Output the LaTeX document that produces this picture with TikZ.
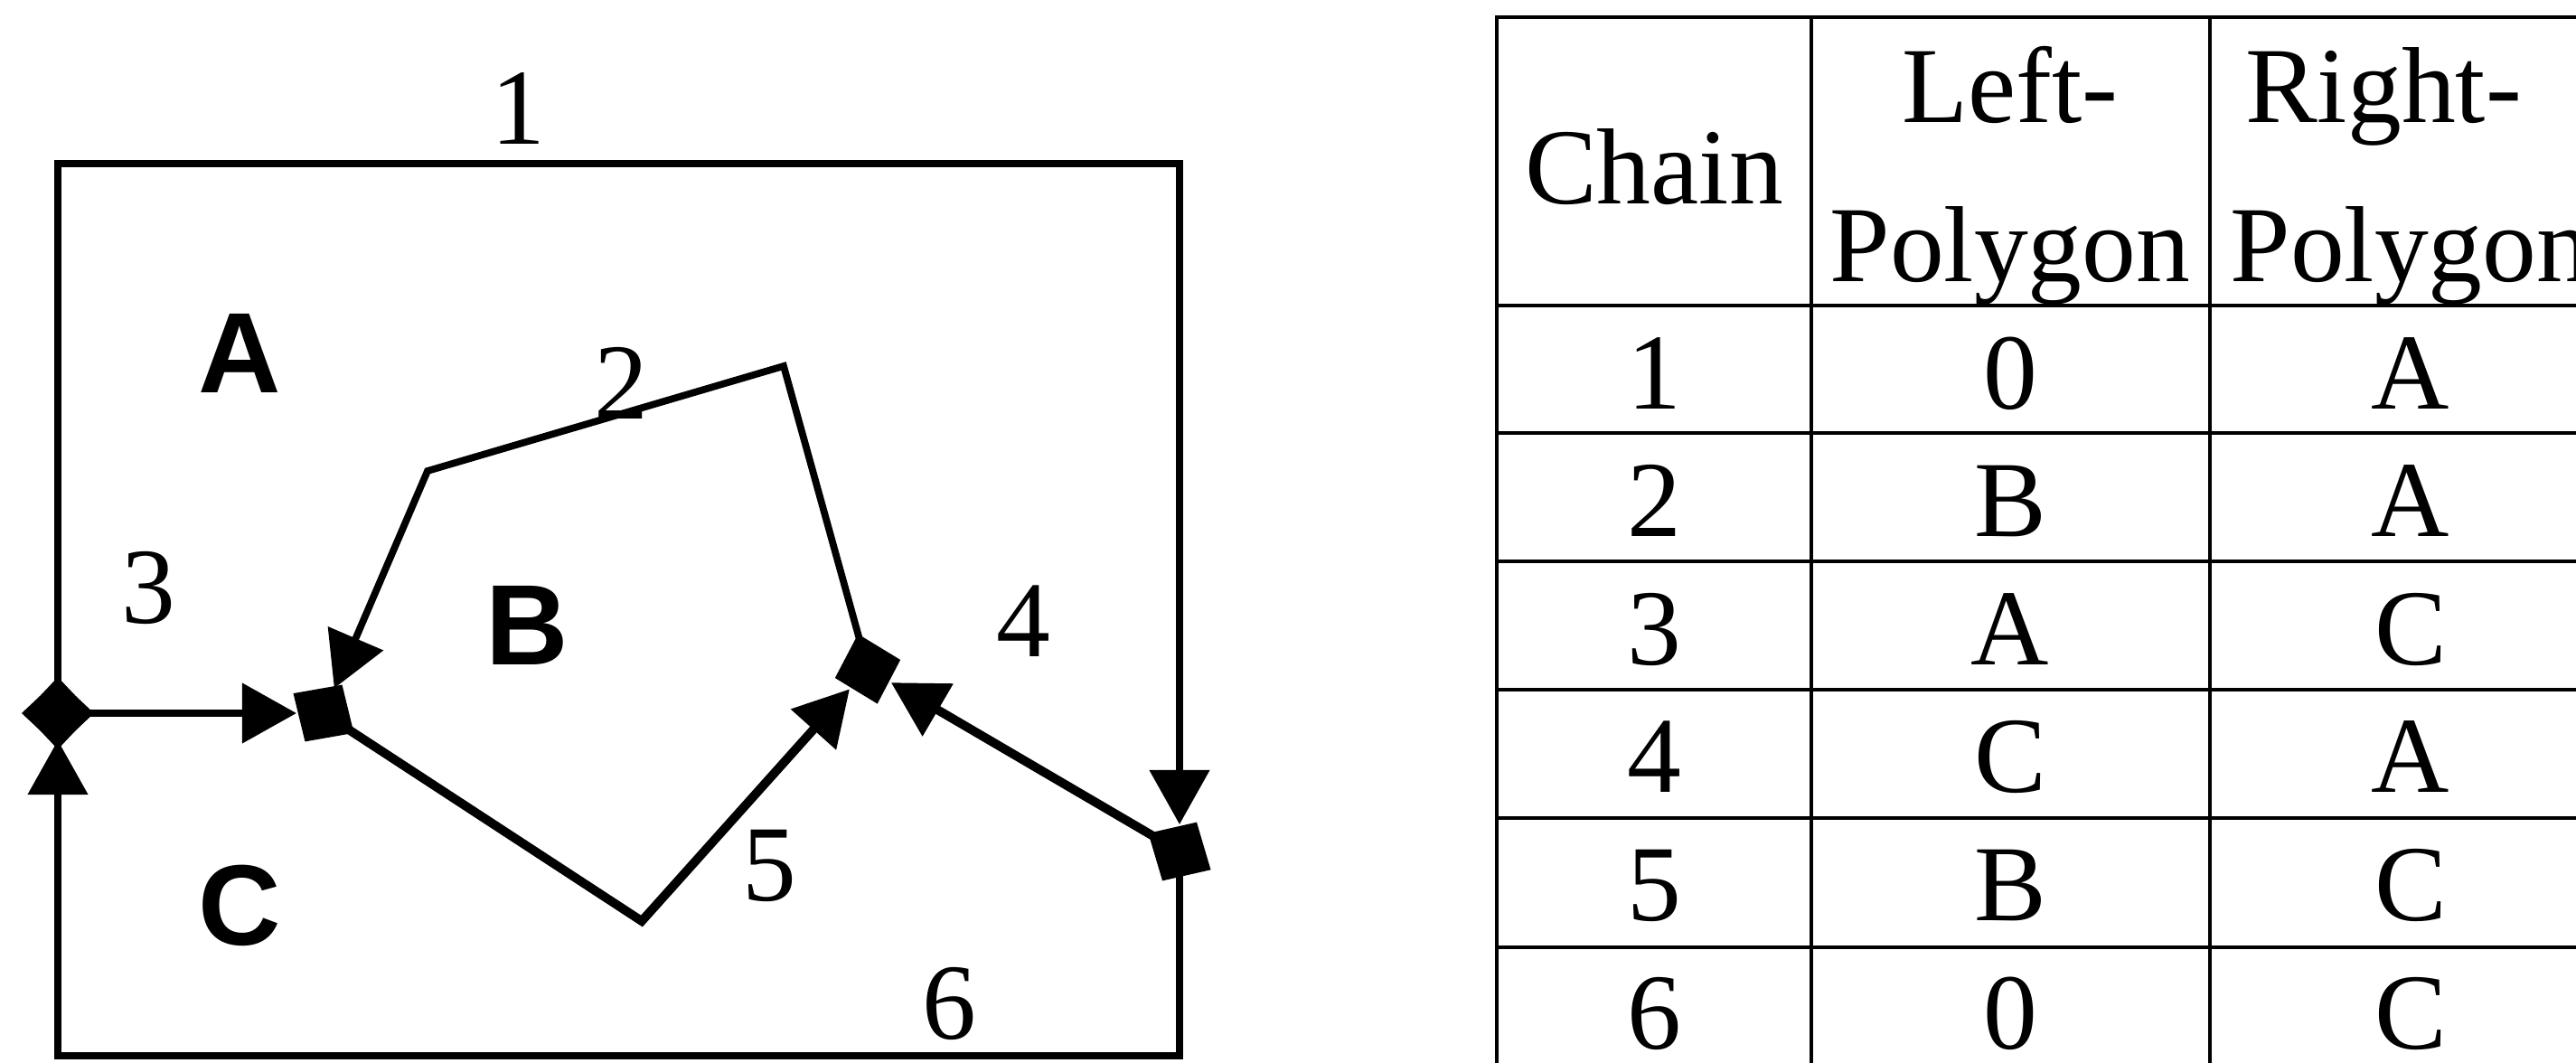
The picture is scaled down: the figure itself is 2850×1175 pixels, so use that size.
\documentclass[tikz,border=0pt]{standalone}
\usepackage{fontspec}
\setmainfont{Liberation Serif}
\setsansfont{Liberation Sans}
\usetikzlibrary{arrows.meta}
\tikzset{
  chainline/.style={line width=2.2pt,
              {Diamond[length=8mm,width=7.5mm]}-{Triangle[length=6mm,width=6.5mm]},
              shorten <=-4mm, shorten >=3mm},
  endonly/.style={line width=2.2pt, -{Triangle[length=6mm,width=6.5mm]}, shorten >=3mm},
  lbl/.style={inner sep=0pt, font=\fontsize{34}{40}\selectfont},
  region/.style={inner sep=0pt, font=\sffamily\bfseries\fontsize{36}{42}\selectfont},
  cell/.style={inner sep=0pt, anchor=base, font=\fontsize{34}{40}\selectfont},
  gridline/.style={line width=1.1pt},
}

\begin{document}
\begin{tikzpicture}[x=0.01cm, y=-0.01cm]
  \useasboundingbox (0,0) rectangle (2850,1175);
  \clip (0,0) rectangle (2850,1175);
  % ===================== chain map =====================
  \coordinate (j1) at (64,789);
  \coordinate (j2) at (358,789);
  \coordinate (j3) at (960,740);
  \coordinate (j4) at (1305,942);
  \coordinate (tl) at (64,181);
  \coordinate (tr) at (1305,181);
  \coordinate (bl) at (64,1168);
  \coordinate (br) at (1305,1168);
  \coordinate (p1) at (473,521);
  \coordinate (p2) at (867,405);
  \coordinate (v5) at (710,1019);
  \draw[chainline] (j1) -- (tl) -- (tr) -- (j4);
  \draw[chainline] (j3) -- (p2) -- (p1) -- (j2);
  \draw[chainline] (j1) -- (j2);
  \draw[chainline, line width=2.8pt] (j4) -- (j3);
  \draw[chainline, line width=2.8pt] (j2) -- (v5) -- (j3);
  \draw[endonly] (j4) -- (br) -- (bl) -- (j1);
  % chain numbers
  \node[lbl] (n1) at (573,120) {1};
  \node[lbl] (n2) at (687,424) {2};
  \node[lbl] (n3) at (164,650) {3};
  \node[lbl] (n4) at (1132,687) {4};
  \node[lbl] (n5) at (851,958) {5};
  \node[lbl] (n6) at (1050,1110) {6};
  % polygons
  \node[region] (ra) at (265,391) {A};
  \node[region] (rb) at (583,692) {B};
  \node[region] (rc) at (265,1002) {C};
  % ===================== table =====================
  \draw[gridline] (1656,19) rectangle (2891,1190);
  \foreach \x in {2004,2445} \draw[gridline] (\x,19) -- (\x,1190);
  \foreach \y in {338,479,621,763,905,1048} \draw[gridline] (1656,\y) -- (2891,\y);
  \node[cell] (hchain) at (1830,225) {Chain};
  \node[cell] (hleft) at (2224,135) {Left-};
  \node[cell] (hleftp) at (2224,311) {Polygon};
  \node[cell] (hright) at (2637,135) {Right-};
  \node[cell] (hrightp) at (2667,311) {Polygon};
  \foreach \c/\l/\r [count=\i] in {1/0/A, 2/B/A, 3/A/C, 4/C/A, 5/B/C, 6/0/C} {
    \node[cell] (chain\i) at (1830,{452+(\i-1)*141.6}) {\c};
    \node[cell] (left\i) at (2224,{452+(\i-1)*141.6}) {\l};
    \node[cell] (right\i) at (2667,{452+(\i-1)*141.6}) {\r};
  }
\end{tikzpicture}
\end{document}
